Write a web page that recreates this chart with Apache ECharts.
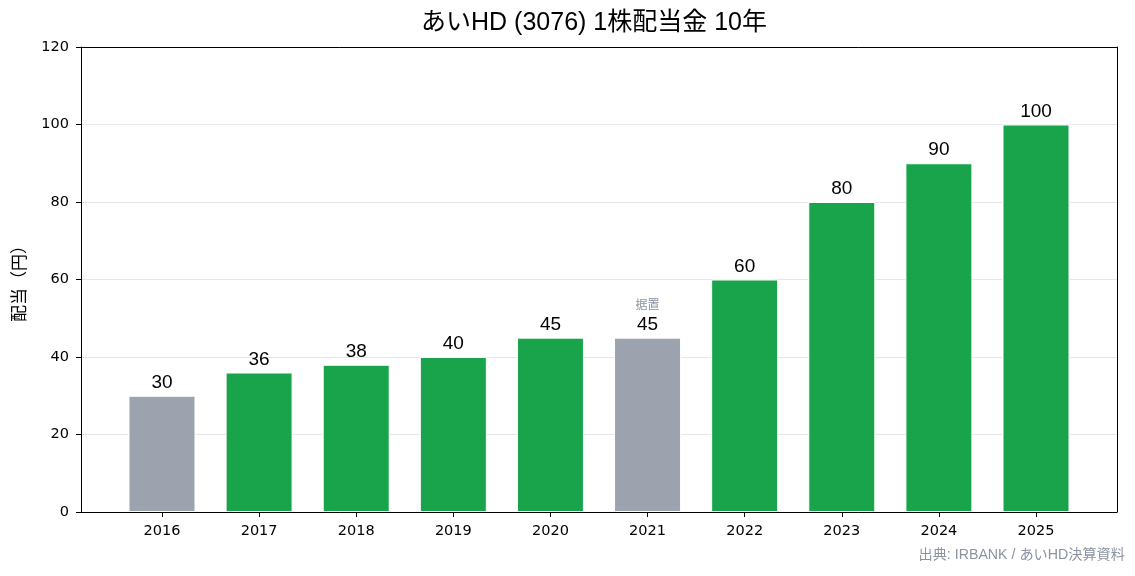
<!DOCTYPE html>
<html>
<head>
<meta charset="utf-8">
<script src="https://cdn.jsdelivr.net/npm/echarts@6/dist/echarts.min.js"></script>
<style>
 html, body { margin: 0; padding: 0; background: #fff; }
 #chart { width: 1135px; height: 576px; }
</style>
</head>
<body>
<div id="chart"></div>
<script>
// 年度と1株配当（円）
const years = ['2016', '2017', '2018', '2019', '2020', '2021', '2022', '2023', '2024', '2025']
const dividends = [30, 36, 38, 40, 45, 45, 60, 80, 90, 100]
// 灰色で描く年（据置など）
const grayYears = ['2016', '2021']
const noteYears = { '2021': '据置' }
const yTicks = [0, 20, 40, 60, 80, 100, 120]

const GREEN = '#19a44b'
const GRAY = '#9ca3af'
const sans = '"Liberation Sans", "Noto Sans CJK JP", sans-serif'
const cjk = '"Noto Sans CJK JP", sans-serif'
const latin = '"DejaVu Sans", sans-serif'

const positions = years.map((y, i) => i)

const barData = years.map((y, i) => ({
 value: [i, dividends[i]],
 itemStyle: { color: grayYears.includes(y) ? GRAY : GREEN }
}))

// 上・右の枠線だけを描く補助軸
const frameAxis = {
 axisLine: { show: true, onZero: false, lineStyle: { color: '#000', width: 1 } },
 axisTick: { show: false },
 axisLabel: { show: false },
 splitLine: { show: false }
}

const option = {
 animation: false,
 title: {
  text: 'あいHD (3076) 1株配当金 10年',
  left: 589,
  textAlign: 'center',
  top: 6,
  textStyle: { fontFamily: sans, fontSize: 25, fontWeight: 'normal', color: '#000' }
 },
 grid: {
  left: 81,
  right: 18,
  top: 47,
  bottom: 64,
  outerBoundsMode: 'none',
  containLabel: false
 },
 xAxis: [
  {
   type: 'value',
   min: -0.834,
   max: 9.834,
   splitLine: { show: false },
   axisLine: { show: true, onZero: false, lineStyle: { color: '#000', width: 1 } },
   axisTick: { show: true, customValues: positions, length: 5, lineStyle: { color: '#000' } },
   axisLabel: {
    customValues: positions,
    formatter: v => years[Math.round(v)],
    color: '#000',
    fontFamily: latin,
    fontSize: 14.5,
    margin: 12
   }
  },
  Object.assign({ type: 'value', position: 'top', min: -0.834, max: 9.834 }, frameAxis)
 ],
 yAxis: [
  {
   type: 'value',
   min: 0,
   max: 120,
   interval: 20,
   name: '配当（円）',
   nameLocation: 'middle',
   nameGap: 54,
   nameTextStyle: { fontFamily: cjk, fontSize: 17, color: '#000' },
   axisLine: { show: true, onZero: false, lineStyle: { color: '#000', width: 1 } },
   axisTick: { show: true, length: 5, lineStyle: { color: '#000' } },
   axisLabel: {
    formatter: v => (yTicks.includes(v) ? String(v) : ''),
    color: '#000',
    fontFamily: latin,
    fontSize: 14.5,
    margin: 12
   },
   splitLine: { show: true, showMinLine: false, showMaxLine: false, lineStyle: { color: '#e5e7eb', width: 1 } }
  },
  Object.assign({ type: 'value', position: 'right', min: 0, max: 120 }, frameAxis)
 ],
 series: [
  {
   type: 'bar',
   xAxisIndex: 0,
   yAxisIndex: 0,
   data: barData,
   barWidth: 67,
   itemStyle: { borderColor: '#fff', borderWidth: 1 },
   label: {
    show: true,
    position: 'top',
    distance: 3,
    formatter: p => {
     const y = years[p.value[0]]
     const v = '{v|' + p.value[1] + '}'
     return noteYears[y] ? '{n|' + noteYears[y] + '}\n' + v : v
    },
    rich: {
     v: { fontFamily: sans, fontSize: 19, color: '#000', lineHeight: 20 },
     n: { fontFamily: cjk, fontSize: 12, color: '#8b93a1', lineHeight: 20 }
    }
   }
  }
 ],
 graphic: [
  {
   type: 'text',
   right: 10,
   top: 548,
   style: {
    text: '出典: IRBANK / あいHD決算資料',
    fill: '#8b93a1',
    font: '14.2px ' + sans
   }
  }
 ]
}

const chart = echarts.init(document.getElementById('chart'), null, { renderer: 'canvas' })
chart.setOption(option)
</script>
</body>
</html>
